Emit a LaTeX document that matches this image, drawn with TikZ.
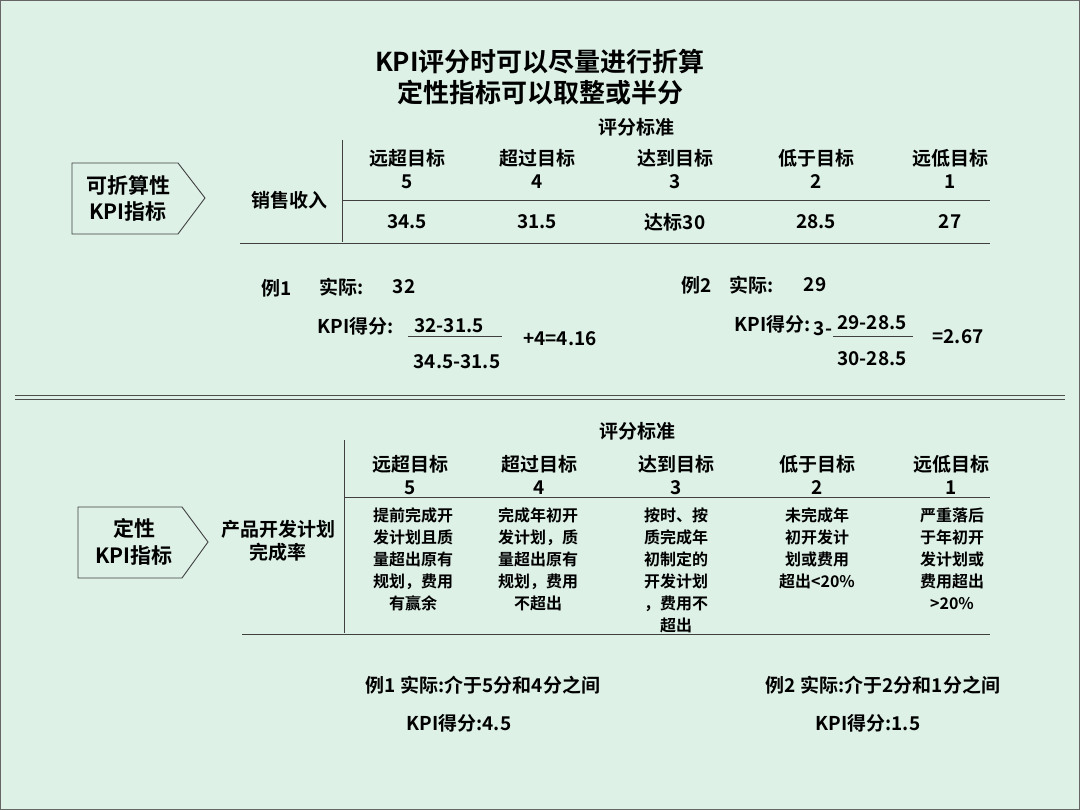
\documentclass[tikz,border=0pt]{standalone}
\usepackage{fontspec}
\setmainfont{Noto Sans CJK SC}[BoldFont={Noto Sans CJK SC Bold}]
\usetikzlibrary{positioning}
\definecolor{mint}{HTML}{DDF1E7}
\begin{document}
\begin{tikzpicture}[x=1pt,y=-1pt,font=\bfseries]

  \tikzset{head/.style={font=\fontsize{19}{23}\selectfont\bfseries, align=center, inner sep=0pt}}
  \tikzset{val/.style={font=\fontsize{19}{21}\selectfont\bfseries, inner sep=0pt}}
  \tikzset{desc/.style={font=\fontsize{16}{22}\selectfont\bfseries, align=center, inner sep=0pt, anchor=north}}
  \tikzset{rule/.style={draw=black!75, line width=0.9pt}}
  \tikzset{tag/.style={draw=black!75, fill=mint, line width=0.9pt}}

  \fill [mint] (0,0) rectangle (1080,810);
  \draw [black!60, line width=1pt] (0.5,0.5) rectangle (1079.5,809.5);

  % title
  \node [font=\fontsize{26}{28}\selectfont\bfseries] (title1) at (540,62) {KPI评分时可以尽量进行折算};
  \node [font=\fontsize{26}{28}\selectfont\bfseries] (title2) at (540,93) {定性指标可以取整或半分};

  % upper table
  \node [val] (crit-a) at (636,127) {评分标准};
  \draw [rule] (342,140) -- (342,242);
  \draw [rule] (342,200) -- (990,200);
  \draw [rule] (240,243) -- (990,243);
  \node [val] (sales) at (289,200) {销售收入};

  \foreach \x/\h/\n/\v [count=\i] in {407/远超目标/5/34.5, 537/超过目标/4/31.5, 675/达到目标/3/达标30, 816/低于目标/2/28.5, 950/远低目标/1/27} {
    \node [head] (ha-\i) at (\x,169) {\h\\\n};
    \node [val] (va-\i) at (\x,222) {\v};
  }

  \draw [tag] (72,163) -- (178,163) -- (205,198) -- (178,234) -- (72,234) -- cycle;
  \node [head, font=\fontsize{21}{26}\selectfont\bfseries] (tag-a) at (128,198) {可折算性\\KPI指标};

  % example 1 / 2
  \node [val] (ex1) at (277,288) {例1};
  \node [val] (act1) at (342,287) {实际:};
  \node [val] (num1) at (404,287) {32};
  \node [val] (kpi1) at (356,326) {KPI得分:};
  \node [val] (top1) at (449,326) {32-31.5};
  \draw [rule] (408,336) -- (502,336);
  \node [val] (bot1) at (457,362) {34.5-31.5};
  \node [val] (res1) at (560,339) {+4=4.16};

  \node [val] (ex2) at (697,285) {例2};
  \node [val] (act2) at (752,285) {实际:};
  \node [val] (num2) at (815,285) {29};
  \node [val] (kpi2) at (773,324) {KPI得分:};
  \node [val] (three) at (823,329) {3-};
  \node [val] (top2) at (872,323) {29-28.5};
  \draw [rule] (833,336) -- (913,336);
  \node [val] (bot2) at (872,359) {30-28.5};
  \node [val] (res2) at (958,337) {=2.67};

  % separator
  \draw [black!70, line width=0.9pt] (15,395.5) -- (1065,395.5);
  \draw [black!70, line width=0.9pt] (15,399.5) -- (1065,399.5);

  % lower table
  \node [val] (crit-b) at (637,431) {评分标准};
  \draw [rule] (344,440) -- (344,633);
  \draw [rule] (344,497) -- (990,497);
  \draw [rule] (242,634) -- (990,634);
  \node [head] (plan) at (278,541) {产品开发计划\\完成率};

  \foreach \x/\h/\n [count=\i] in {410/远超目标/5, 539/超过目标/4, 676/达到目标/3, 817/低于目标/2, 951/远低目标/1}
    \node [head] (hb-\i) at (\x,475) {\h\\\n};

  \node [desc] (d-1) at (413,508) {提前完成开\\发计划且质\\量超出原有\\规划，费用\\有赢余};
  \node [desc] (d-2) at (538,508) {完成年初开\\发计划，质\\量超出原有\\规划，费用\\不超出};
  \node [desc] (d-3) at (676,508) {按时、按\\质完成年\\初制定的\\开发计划\\，费用不\\超出};
  \node [desc] (d-4) at (817,508) {未完成年\\初开发计\\划或费用\\超出<20\%};
  \node [desc] (d-5) at (952,508) {严重落后\\于年初开\\发计划或\\费用超出\\>20\%};

  \draw [tag] (78,507) -- (182,507) -- (208,542) -- (182,578) -- (78,578) -- cycle;
  \node [head, font=\fontsize{21}{27}\selectfont\bfseries] (tag-b) at (134,542) {定性\\KPI指标};

  \node [val] (ex3) at (483,685) {例1 实际:介于5分和4分之间};
  \node [val] (kpi3) at (459,723) {KPI得分:4.5};
  \node [val] (ex4) at (883,685) {例2 实际:介于2分和1分之间};
  \node [val] (kpi4) at (868,723) {KPI得分:1.5};
\end{tikzpicture}
\end{document}
